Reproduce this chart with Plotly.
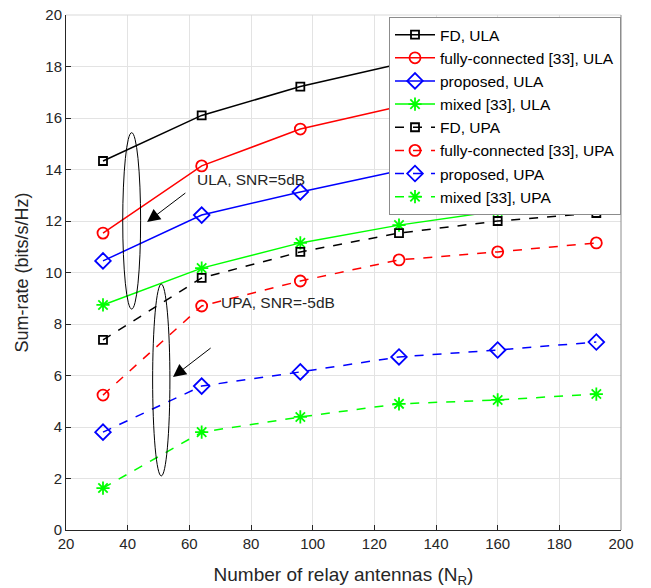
import plotly.graph_objects as go

N_R = [32, 64, 96, 128, 160, 192]

fd_ula = [14.33, 16.1, 17.22, 18.1, 18.6, 19.0]
fc_ula = [11.53, 14.14, 15.57, 16.45, 17.0, 17.4]
prop_ula = [10.45, 12.23, 13.13, 13.95, 14.4, 14.8]
mixed_ula = [8.74, 10.17, 11.15, 11.84, 12.39, 12.74]

fd_upa = [7.38, 9.79, 10.8, 11.53, 12.0, 12.31]
fc_upa = [5.24, 8.7, 9.67, 10.49, 10.8, 11.15]
prop_upa = [3.8, 5.59, 6.14, 6.72, 6.99, 7.3]
mixed_upa = [1.63, 3.8, 4.39, 4.9, 5.05, 5.28]

names = ["FD, ULA", "fully-connected [33], ULA", "proposed, ULA", "mixed [33], ULA",
         "FD, UPA", "fully-connected [33], UPA", "proposed, UPA", "mixed [33], UPA"]
series = [fd_ula, fc_ula, prop_ula, mixed_ula, fd_upa, fc_upa, prop_upa, mixed_upa]
colors = ["#000000", "#ff0000", "#0000ff", "#00ff00"] * 2
symbols = ["square-open", "circle-open", "diamond-open", "asterisk-open"] * 2
sizes = [8, 11, 12, 11] * 2
dashes = ["solid"] * 4 + ["dash"] * 4

fig = go.Figure()
for nm, ys, c, s, sz, d in zip(names, series, colors, symbols, sizes, dashes):
    fig.add_trace(go.Scatter(
        x=N_R, y=ys, name=nm, mode="lines+markers",
        line=dict(color=c, width=1.5, dash=d),
        marker=dict(symbol=s, size=sz, color=c, line=dict(color=c, width=1.8)),
    ))

# ellipses
fig.add_shape(type="circle", xref="x", yref="y", x0=38.4, x1=44.2, y0=8.58, y1=15.43,
              line=dict(color="black", width=1))
fig.add_shape(type="circle", xref="x", yref="y", x0=48.1, x1=53.7, y0=2.1, y1=9.55,
              line=dict(color="black", width=1))
# top/right box lines
fig.add_shape(type="line", xref="paper", yref="paper", x0=0, x1=1, y0=1, y1=1,
              line=dict(color="#d9d9d9", width=1))
fig.add_shape(type="line", xref="paper", yref="paper", x0=1, x1=1, y0=0, y1=1,
              line=dict(color="#8c8c8c", width=1))

# arrows
fig.add_annotation(x=46.3, y=11.96, ax=59.2, ay=13.13, xref="x", yref="y", axref="x", ayref="y",
                   showarrow=True, arrowhead=2, arrowsize=2.6, arrowwidth=1, arrowcolor="black", text="")
fig.add_annotation(x=54.7, y=5.94, ax=67.4, ay=7.11, xref="x", yref="y", axref="x", ayref="y",
                   showarrow=True, arrowhead=2, arrowsize=2.6, arrowwidth=1, arrowcolor="black", text="")
fig.add_annotation(x=61.8, y=13.6, xref="x", yref="y", text="ULA, SNR=5dB", showarrow=False,
                   xanchor="left", yanchor="middle", font=dict(size=15.5, color="#262626"))
fig.add_annotation(x=69.6, y=8.85, xref="x", yref="y", text="UPA, SNR=-5dB", showarrow=False,
                   xanchor="left", yanchor="middle", font=dict(size=15.5, color="#262626"))

fig.update_layout(
    width=651, height=588,
    margin=dict(l=66, r=30, t=15, b=58, autoexpand=False),
    plot_bgcolor="white", paper_bgcolor="white",
    font=dict(family="Liberation Sans, Arial, sans-serif", size=15, color="#262626"),
    legend=dict(x=1, xanchor="right", y=0.996, yanchor="top",
                bgcolor="white", bordercolor="#8c8c8c", borderwidth=1,
                font=dict(size=15.5, color="#000000"), tracegroupgap=0,
                itemwidth=40),
    showlegend=True,
)
fig.update_xaxes(range=[20, 200], dtick=20, showgrid=True, gridcolor="#e3e3e3",
                 showline=True, linecolor="#262626", linewidth=1,
                 ticks="inside", ticklen=5, tickcolor="#262626", zeroline=False,
                 title=dict(text="Number of relay antennas (N<sub>R</sub>)", standoff=17,
                            font=dict(size=19)))
fig.update_yaxes(range=[0, 20], dtick=2, showgrid=True, gridcolor="#e3e3e3",
                 showline=True, linecolor="#262626", linewidth=1,
                 ticks="inside", ticklen=5, tickcolor="#262626", zeroline=False,
                 title=dict(text="Sum-rate (bits/s/Hz)", standoff=12, font=dict(size=18)))

fig.write_html("out.html", config={"displayModeBar": False},
               post_script="document.body.style.margin='0';")
